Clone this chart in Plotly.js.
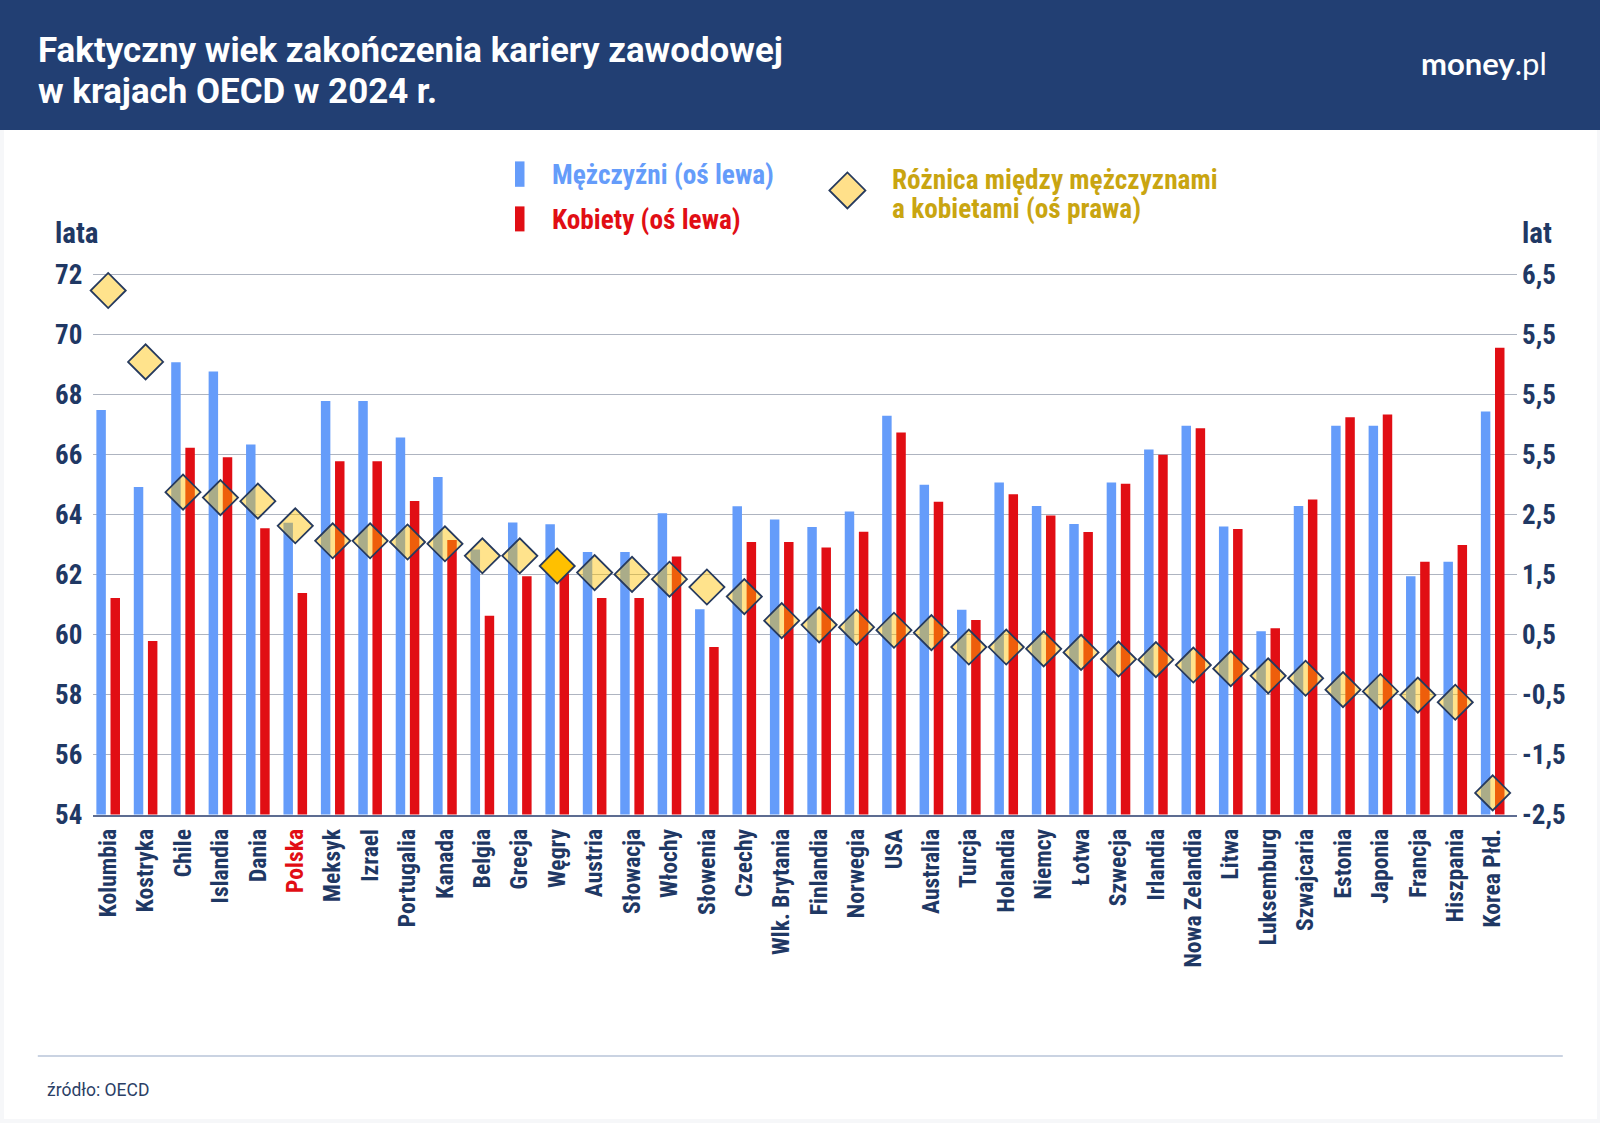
<!DOCTYPE html>
<html><head><meta charset="utf-8">
<script src="https://cdn.plot.ly/plotly-3.0.1.min.js"></script>
<style>html,body{margin:0;padding:0;background:#fff}#c{width:1600px;height:1123px}
.main-svg text[style*="Condensed"]{font-stretch:75%}</style></head>
<body><div id="c"></div>
<script>
const countries=["Kolumbia","Kostryka","Chile","Islandia","Dania","Polska","Meksyk","Izrael","Portugalia","Kanada","Belgia","Grecja","Węgry","Austria","Słowacja","Włochy","Słowenia","Czechy","Wlk. Brytania","Finlandia","Norwegia","USA","Australia","Turcja","Holandia","Niemcy","Łotwa","Szwecja","Irlandia","Nowa Zelandia","Litwa","Luksemburg","Szwajcaria","Estonia","Japonia","Francja","Hiszpania","Korea Płd."];
const men=[67.48,64.91,69.07,68.76,66.33,63.72,67.78,67.78,66.56,65.25,62.83,63.73,63.67,62.75,62.75,64.04,60.84,64.27,63.83,63.58,64.10,67.29,64.99,60.82,65.06,64.28,63.68,65.06,66.16,66.95,63.60,60.11,64.28,66.95,66.95,61.94,62.42,67.43];
const women=[61.21,59.78,66.22,65.90,63.54,61.38,65.77,65.77,64.45,63.15,60.62,61.94,62.03,61.21,61.21,62.60,59.58,63.08,63.08,62.90,63.42,66.73,64.42,60.48,64.67,63.96,63.41,65.02,65.99,66.87,63.51,60.21,64.50,67.24,67.33,62.42,62.98,69.55];
const gap=[6.23,5.04,2.87,2.78,2.72,2.31,2.06,2.06,2.04,2.01,1.81,1.81,1.64,1.53,1.50,1.42,1.29,1.13,0.73,0.66,0.62,0.57,0.53,0.29,0.29,0.26,0.20,0.09,0.08,-0.01,-0.07,-0.19,-0.23,-0.42,-0.45,-0.51,-0.63,-2.14];
const leftTicks=[54,56,58,60,62,64,66,68,70,72];
const rightTicks=[-2.5,-1.5,-0.5,0.5,1.5,2.5,3.5,4.5,5.5,6.5];
const rightLabels=["-2,5","-1,5","-0,5","0,5","1,5","2,5","5,5","5,5","5,5","6,5"];

const W=1600,H=1123;
const fx=p=>p/W, fy=p=>1-p/H;
const NAVY="#1F3864", BLUE="#659CFA", RED="#E10E14", GOLD="#C9A511";
const COND="'Roboto Condensed',Roboto,sans-serif";
const idx=countries.map((_,i)=>i);
const xLabels=countries.map(c=>c==="Polska"?`<span style="color:${RED}">${c}</span>`:c);
const gapFill=countries.map(c=>c==="Węgry"?"#FFC000":"rgba(255,192,0,0.45)");

const traces=[
 {type:"bar",x:idx,y:men,name:"Mężczyźni (oś lewa)",marker:{color:BLUE},yaxis:"y"},
 {type:"bar",x:idx,y:women,name:"Kobiety (oś lewa)",marker:{color:RED},yaxis:"y"},
 {type:"scatter",mode:"markers",x:idx,y:gap,name:"Różnica",yaxis:"y2",cliponaxis:false,
  marker:{symbol:"diamond",size:27,color:gapFill,line:{color:"#263A5E",width:1.8}}}
];
const rect=(x0,y0,x1,y1,fill)=>({type:"rect",xref:"paper",yref:"paper",x0:fx(x0),x1:fx(x1),y0:fy(y0),y1:fy(y1),fillcolor:fill,line:{width:0},layer:"below"});
const txt=(text,x,y,size,color,anchor,family)=>({text,x:fx(x),y:fy(y),xref:"paper",yref:"paper",xanchor:anchor||"left",yanchor:"middle",showarrow:false,align:"left",font:{size,color,family:family||COND}});
const dx=18,dy=18,cx=847.4,cy=190.4;
const tickBold=(size)=>({family:COND,size,color:NAVY,weight:700});
const layout={
 width:W,height:H,margin:{l:0,r:0,t:0,b:0},paper_bgcolor:"#F6F7F9",plot_bgcolor:"rgba(0,0,0,0)",showlegend:false,
 barmode:"group",bargap:0.244,bargroupgap:0.33,
 xaxis:{domain:[fx(93.4),fx(1517)],range:[-0.395,37.65],tickmode:"array",tickvals:idx,ticktext:xLabels,tickangle:-90,
  tickfont:tickBold(23.6),ticklen:0,showgrid:false,showline:true,linecolor:"#5D6C91",linewidth:2,ticklabelstandoff:3,automargin:false},
 yaxis:{domain:[fy(814.5),fy(272.8)],range:[54,72.05],tickmode:"array",tickvals:leftTicks,ticktext:leftTicks.map(String),
  tickfont:tickBold(27),ticklen:0,gridcolor:"#AEB4C0",gridwidth:1,zeroline:false,showline:false,ticklabelstandoff:10,automargin:false},
 yaxis2:{overlaying:"y",side:"right",range:[-2.5,6.525],tickmode:"array",tickvals:rightTicks,ticktext:rightLabels,
  tickfont:tickBold(27),ticklen:0,showgrid:false,zeroline:false,showline:false,ticklabelstandoff:4,automargin:false},
 shapes:[
  rect(4,130,1597,1119,"#FFFFFF"),
  rect(0,0,1600,130,"#223F73"),
  rect(515,161.4,524.5,186.8,BLUE),
  rect(515,206.4,524.5,231.4,RED),
  {type:"line",xref:"paper",yref:"paper",x0:fx(37.8),x1:fx(1562.8),y0:fy(1056),y1:fy(1056),line:{color:"#B9C5D8",width:1.5},layer:"below"},
  {type:"path",xref:"paper",yref:"paper",
   path:`M ${fx(cx-dx)} ${fy(cy)} L ${fx(cx)} ${fy(cy-dy)} L ${fx(cx+dx)} ${fy(cy)} L ${fx(cx)} ${fy(cy+dy)} Z`,
   fillcolor:"#FFE08A",line:{color:"#263A5E",width:1.8}}
 ],
 annotations:[
  txt("<b>Faktyczny wiek zakończenia kariery zawodowej</b>",35.5,50,34.9,"#FFFFFF","left","Roboto,sans-serif"),
  txt("<b>w krajach OECD w 2024 r.</b>",35.5,91,34.9,"#FFFFFF","left","Roboto,sans-serif"),
  txt("<b>money</b>.pl",1419,63,31,"#FFFFFF","left","Lato,sans-serif"),
  txt("<b>Mężczyźni (oś lewa)</b>",550,175,27.3,BLUE),
  txt("<b>Kobiety (oś lewa)</b>",550,220,27.3,RED),
  txt("<b>Różnica między mężczyznami</b>",890,180,27.3,GOLD),
  txt("<b>a kobietami (oś prawa)</b>",890,209,27.3,GOLD),
  txt("<b>lata</b>",53,233,29,NAVY),
  txt("<b>lat</b>",1520,233,29,NAVY),
  txt("źródło: OECD",45,1090,17.5,"#2B3F66","left","Roboto,sans-serif")
 ]
};
Plotly.newPlot("c",traces,layout,{displayModeBar:false,staticPlot:true});
</script></body></html>
